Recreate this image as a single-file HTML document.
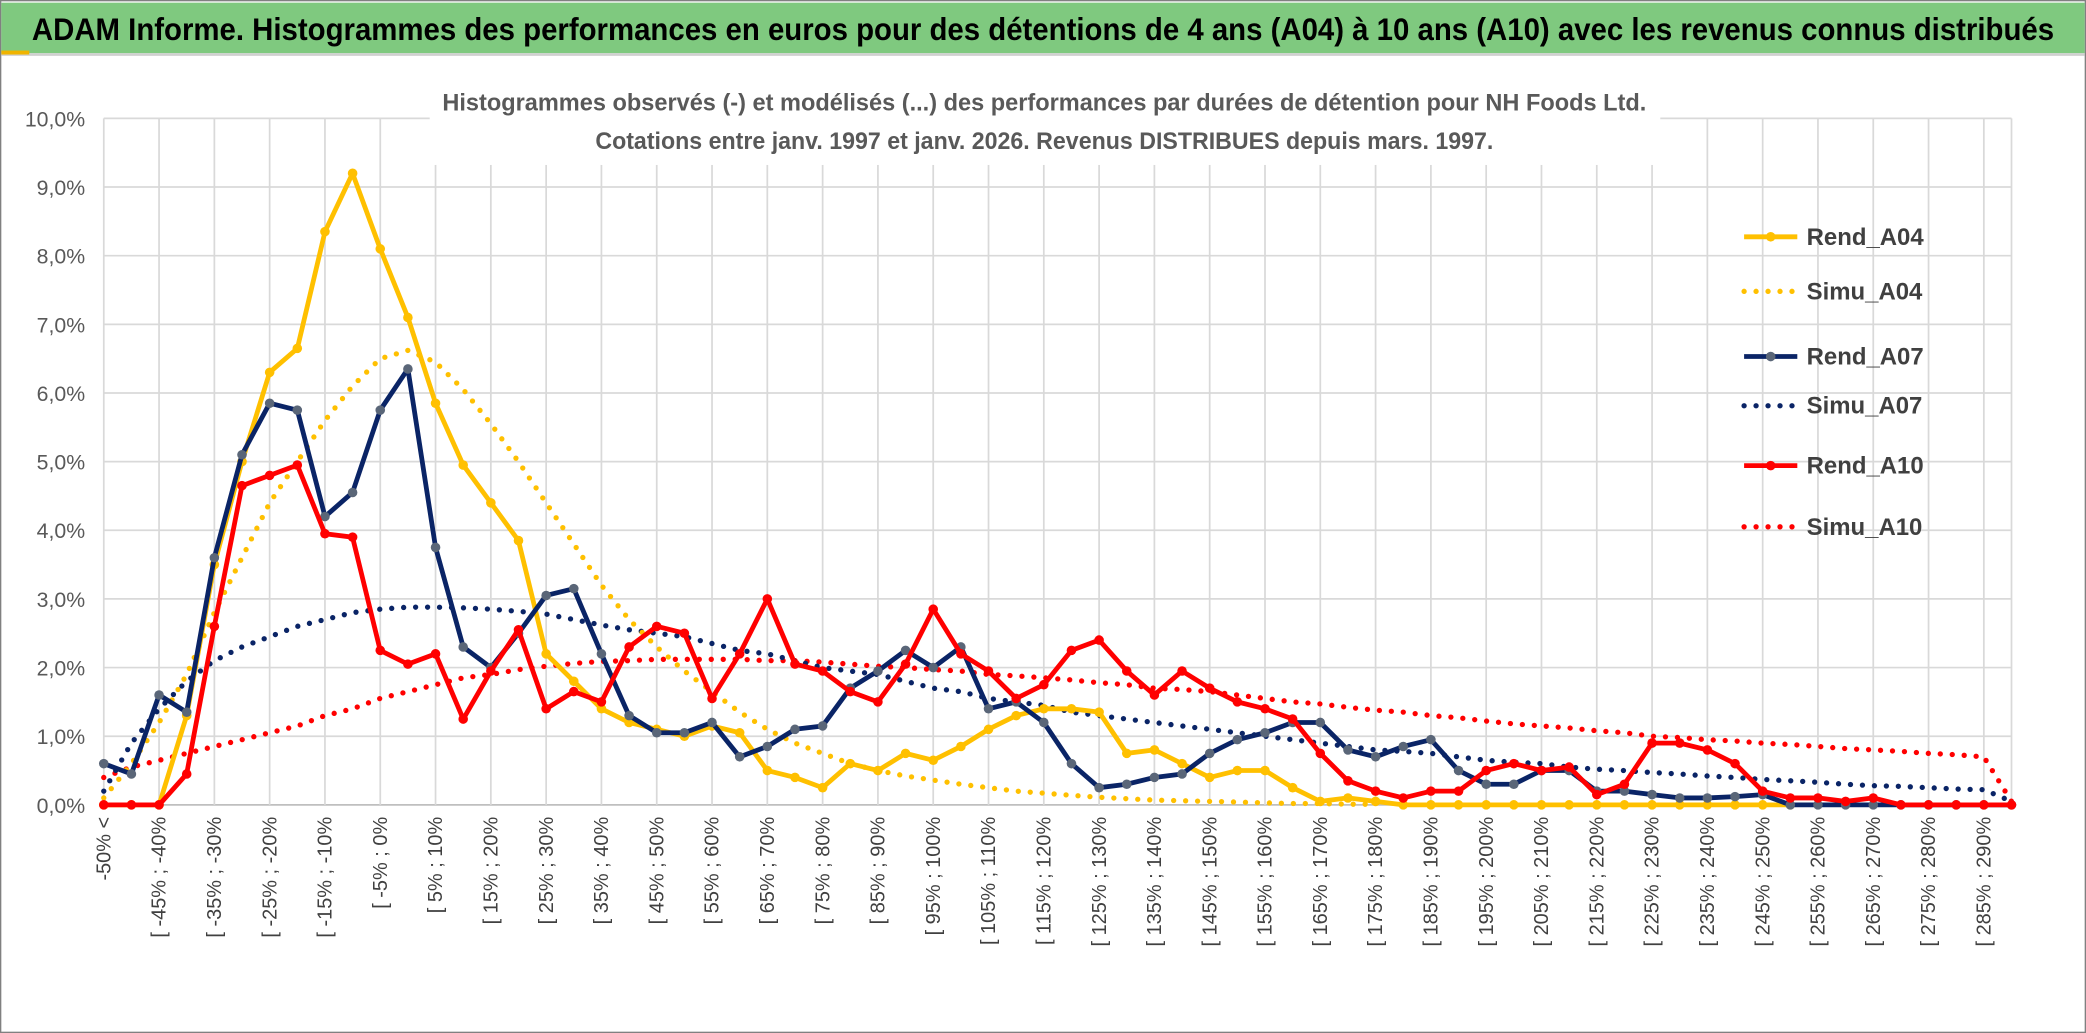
<!DOCTYPE html>
<html><head><meta charset="utf-8"><style>
html,body{margin:0;padding:0;background:#fff;}
svg{display:block;}
text{font-family:"Liberation Sans Narrow","Liberation Sans",sans-serif;}
</style></head><body>
<svg id="chart" width="2086" height="1033" viewBox="0 0 1568 776.5" preserveAspectRatio="none" xmlns="http://www.w3.org/2000/svg">
<rect x="0" y="0" width="1568" height="776.5" fill="#fff" stroke="#808080" stroke-width="2"/>
<rect x="1" y="2" width="1566" height="38" fill="#7fc97f"/>
<rect x="1" y="40" width="1566" height="2" fill="#d0d0d0"/>
<rect x="1" y="38" width="21" height="3" fill="#f0b400"/>
<text x="784" y="30" text-anchor="middle" font-size="24" font-weight="bold" fill="#000" textLength="1520" lengthAdjust="spacingAndGlyphs">ADAM Informe. Histogrammes des performances en euros pour des détentions de 4 ans (A04) à 10 ans (A10) avec les revenus connus distribués</text>
<g id="grid"></g>
<g id="ylabels"></g>
<g id="xlabels"></g>
<rect x="323" y="62" width="925" height="62" fill="#fff"/>
<text x="785" y="83" text-anchor="middle" font-size="18" font-weight="bold" fill="#595959" textLength="905" lengthAdjust="spacingAndGlyphs">Histogrammes observés (-) et modélisés (...) des performances par durées de détention pour NH Foods Ltd.</text>
<text x="785" y="112" text-anchor="middle" font-size="18" font-weight="bold" fill="#595959" textLength="675" lengthAdjust="spacingAndGlyphs">Cotations entre janv. 1997 et janv. 2026. Revenus DISTRIBUES depuis mars. 1997.</text>
<g id="series"></g>
<g id="legend"></g>
</svg>
<script>
const categories=[];
for(let k=0;k<70;k++){ if(k===0) categories.push('-50% <'); else { const a=-55+5*k; categories.push('[ '+a+'% ; '+(a+5)+'%'); } }
const yTicks=[0,1,2,3,4,5,6,7,8,9,10];
const yTickLabels=['0,0%','1,0%','2,0%','3,0%','4,0%','5,0%','6,0%','7,0%','8,0%','9,0%','10,0%'];
const rendA04=[0,0,0,1.3,3.5,5.0,6.3,6.65,8.35,9.2,8.1,7.1,5.85,4.95,4.4,3.85,2.2,1.8,1.4,1.2,1.1,1.0,1.15,1.05,0.5,0.4,0.25,0.6,0.5,0.75,0.65,0.85,1.1,1.3,1.4,1.4,1.35,0.75,0.8,0.6,0.4,0.5,0.5,0.25,0.05,0.1,0.05,0,0,0,0,0,0,0,0,0,0,0,0,0,0,0,null,null,null,null,null,null,null,null];
const simuA04=[0.1,0.6,1.2,1.9,2.8,3.6,4.4,5.0,5.6,6.1,6.5,6.62,6.45,6.05,5.55,5.0,4.4,3.8,3.2,2.7,2.3,1.95,1.65,1.35,1.1,0.9,0.75,0.6,0.5,0.42,0.36,0.3,0.25,0.2,0.17,0.14,0.11,0.09,0.07,0.06,0.05,0.04,0.03,0.02,0.02,0.01,0.01,null,null,null,null,null,null,null,null,null,null,null,null,null,null,null,null,null,null,null,null,null,null,null];
const rendA07=[0.6,0.45,1.6,1.35,3.6,5.1,5.85,5.75,4.2,4.55,5.75,6.35,3.75,2.3,2.0,2.5,3.05,3.15,2.2,1.3,1.05,1.05,1.2,0.7,0.85,1.1,1.15,1.7,1.95,2.25,2.0,2.3,1.4,1.5,1.2,0.6,0.25,0.3,0.4,0.45,0.75,0.95,1.05,1.2,1.2,0.8,0.7,0.85,0.95,0.5,0.3,0.3,0.5,0.5,0.2,0.2,0.15,0.1,0.1,0.12,0.15,0,0,0,0,0,0,0,0,0];
const simuA07=[0.2,0.9,1.4,1.8,2.1,2.3,2.45,2.6,2.7,2.8,2.85,2.88,2.88,2.87,2.85,2.82,2.78,2.7,2.62,2.55,2.5,2.45,2.35,2.25,2.2,2.1,2.0,1.95,1.9,1.8,1.7,1.65,1.55,1.5,1.45,1.35,1.3,1.25,1.2,1.15,1.1,1.05,1.0,0.95,0.9,0.85,0.8,0.78,0.75,0.7,0.65,0.62,0.6,0.55,0.52,0.5,0.47,0.45,0.42,0.4,0.37,0.35,0.33,0.3,0.28,0.27,0.25,0.23,0.22,0.05];
const rendA10=[0,0,0,0.45,2.6,4.65,4.8,4.95,3.95,3.9,2.25,2.05,2.2,1.25,1.95,2.55,1.4,1.65,1.5,2.3,2.6,2.5,1.55,2.2,3.0,2.05,1.95,1.65,1.5,2.05,2.85,2.2,1.95,1.55,1.75,2.25,2.4,1.95,1.6,1.95,1.7,1.5,1.4,1.25,0.75,0.35,0.2,0.1,0.2,0.2,0.5,0.6,0.5,0.55,0.15,0.3,0.9,0.9,0.8,0.6,0.2,0.1,0.1,0.05,0.1,0,0,0,0,0];
const simuA10=[0.4,0.55,0.65,0.75,0.85,0.95,1.05,1.15,1.3,1.4,1.55,1.65,1.75,1.85,1.9,1.97,2.02,2.06,2.09,2.1,2.12,2.12,2.12,2.12,2.1,2.1,2.08,2.05,2.02,2.0,1.97,1.95,1.9,1.88,1.85,1.82,1.78,1.75,1.7,1.68,1.65,1.6,1.55,1.5,1.47,1.42,1.38,1.35,1.3,1.27,1.22,1.18,1.15,1.12,1.08,1.05,1.0,0.98,0.95,0.93,0.9,0.88,0.85,0.82,0.8,0.78,0.75,0.73,0.7,0.05];
const legendNames=['Rend_A04','Simu_A04','Rend_A07','Simu_A07','Rend_A10','Simu_A10'];

const NS='http://www.w3.org/2000/svg';
const X0=78,DX=(1512-78)/69,Y0=605,PY=(605-89)/10;
const xs=k=>X0+DX*k, ys=v=>Y0-PY*v;
function mk(t,a,p){const e=document.createElementNS(NS,t);for(const n in a)e.setAttribute(n,a[n]);if(p)p.appendChild(e);return e;}
const grid=document.getElementById('grid');
yTicks.forEach((v,i)=>{
  const l=mk('line',{x1:X0,x2:1512,y1:ys(v),y2:ys(v),stroke:i===0?'#bfbfbf':'#d9d9d9','stroke-width':1.3},grid);
  
  
  const t=mk('text',{x:64,y:ys(v)+6,'text-anchor':'end','font-size':16,fill:'#595959'},document.getElementById('ylabels'));
  t.textContent=yTickLabels[i];
  
  
});
categories.forEach((c,k)=>{
  if(k%2) return;
  const l=mk('line',{x1:xs(k),x2:xs(k),y1:ys(10),y2:Y0,stroke:'#d9d9d9','stroke-width':1.3},grid);
  
  
  const t=mk('text',{x:0,y:0,'text-anchor':'end','font-size':15,fill:'#404040',transform:'translate('+(xs(k)+5)+',614) rotate(-90)'},document.getElementById('xlabels'));
  t.textContent=c;
  
  
});
mk('line',{x1:1512,x2:1512,y1:ys(10),y2:Y0,stroke:'#d9d9d9','stroke-width':1.3},grid);
const seriesG=document.getElementById('series');
function drawSeries(data,color,dotted,marker,name){
  let d='';let pen=false;
  data.forEach((v,k)=>{if(v==null){pen=false;return;}d+=(pen?'L':'M')+xs(k).toFixed(1)+' '+ys(v).toFixed(1);pen=true;});
  const a={d:d,fill:'none',stroke:color,'stroke-width':dotted?4:3.6,'stroke-linejoin':'round'};
  if(dotted){a['stroke-dasharray']='0 9';a['stroke-linecap']='round';}
  const p=mk('path',a,seriesG);
  
  
  if(marker){data.forEach((v,k)=>{if(v==null)return;const c=mk('circle',{cx:xs(k),cy:ys(v),r:3.6,fill:marker},seriesG);
    
    });}
}
drawSeries(simuA10,'#ff0000',true,null,'simu-a10-line');
drawSeries(simuA07,'#0a2466',true,null,'simu-a07-line');
drawSeries(simuA04,'#ffc000',true,null,'simu-a04-line');
drawSeries(rendA04,'#ffc000',false,'#ffc000','rend-a04-line');
drawSeries(rendA07,'#0a2466',false,'#5a6678','rend-a07-line');
drawSeries(rendA10,'#ff0000',false,'#ff0000','rend-a10-line');
const lg=document.getElementById('legend');
const ly=[178,219,268,305,350,396];
const lc=['#ffc000','#ffc000','#0a2466','#0a2466','#ff0000','#ff0000'];
legendNames.forEach((n,i)=>{
  const dotted=i%2===1;
  const a={x1:1311,x2:1351,y1:ly[i],y2:ly[i],stroke:lc[i],'stroke-width':dotted?4:3.6};
  if(dotted){a['stroke-dasharray']='0 9';a['stroke-linecap']='round';}
  const l=mk('line',a,lg);
  
  
  if(!dotted){const c=mk('circle',{cx:1331,cy:ly[i],r:3.6,fill:i===2?'#5a6678':lc[i]},lg);
    
    }
  const t=mk('text',{x:1358,y:ly[i]+6,'font-size':18,'font-weight':'bold',fill:'#404040'},lg);
  t.textContent=n;
  
  
});
</script>
</body></html>
